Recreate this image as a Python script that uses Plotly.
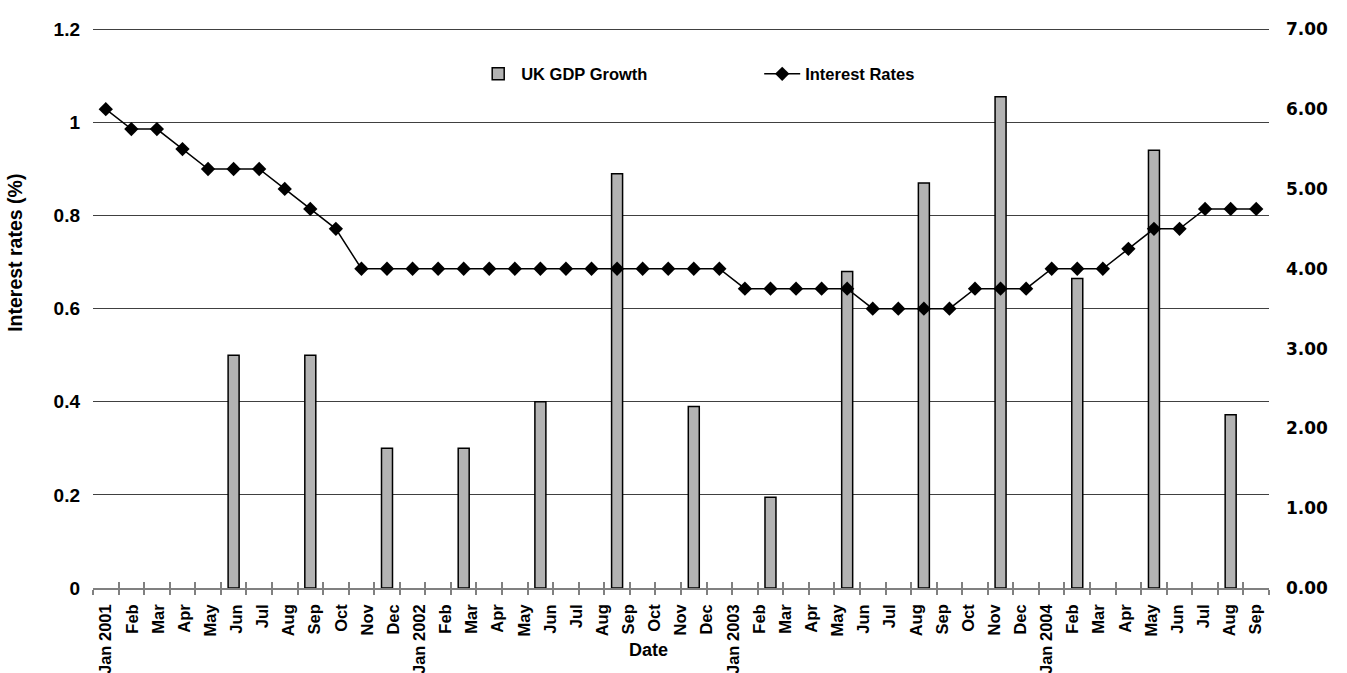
import plotly.graph_objects as go
import pandas as pd

# ---------------- data ----------------
# 46 monthly data slots (Jan 2001 .. Oct 2004) used by both series
month_keys = list(pd.period_range("2001-01", periods=46, freq="M").strftime("%Y-%m"))

# 45 category labels printed under the axis
month_labels = [
    "Jan 2001", "Feb", "Mar", "Apr", "May", "Jun", "Jul", "Aug", "Sep", "Oct", "Nov", "Dec",
    "Jan 2002", "Feb", "Mar", "Apr", "May", "Jun", "Jul", "Aug", "Sep", "Oct", "Nov", "Dec",
    "Jan 2003", "Feb", "Mar", "Apr", "May", "Jun", "Jul", "Aug", "Sep", "Oct", "Nov", "Dec",
    "Jan 2004", "Feb", "Mar", "Apr", "May", "Jun", "Jul", "Aug", "Sep",
]

interest_rates = [
    6.00, 5.75, 5.75, 5.50, 5.25, 5.25, 5.25, 5.00, 4.75, 4.50, 4.00, 4.00,
    4.00, 4.00, 4.00, 4.00, 4.00, 4.00, 4.00, 4.00, 4.00, 4.00, 4.00, 4.00,
    4.00, 3.75, 3.75, 3.75, 3.75, 3.75, 3.50, 3.50, 3.50, 3.50, 3.75, 3.75,
    3.75, 4.00, 4.00, 4.00, 4.25, 4.50, 4.50, 4.75, 4.75, 4.75,
]

gdp_months = [
    "2001-06", "2001-09", "2001-12", "2002-03", "2002-06", "2002-09", "2002-12",
    "2003-03", "2003-06", "2003-09", "2003-12", "2004-03", "2004-06", "2004-09",
]
gdp_growth = [0.50, 0.50, 0.30, 0.30, 0.40, 0.89, 0.39, 0.195, 0.68, 0.87, 1.055, 0.665, 0.94, 0.372]

left_tickvals = [0, 0.2, 0.4, 0.6, 0.8, 1, 1.2]
left_ticktext = ["0", "0.2", "0.4", "0.6", "0.8", "1", "1.2"]
right_tickvals = [0, 1, 2, 3, 4, 5, 6, 7]

# small headroom so the top gridline (1.2) is not clipped at the plot edge
left_max = 1.205
right_max = 7 * left_max / 1.2

sans = "Liberation Sans, Arial, sans-serif"
left_ticks_font = dict(family=sans, size=19, color="black", weight=700)
right_ticks_font = dict(family="DejaVu Sans, Verdana, sans-serif", size=17, color="black", weight=700)

fig = go.Figure()
fig.add_trace(go.Bar(
    x=gdp_months, y=gdp_growth, name="UK GDP Growth",
    xaxis="x", yaxis="y",
    marker=dict(color="#b3b3b3", line=dict(color="black", width=1.5)),
))
fig.add_trace(go.Scatter(
    x=month_keys, y=interest_rates, name="Interest Rates",
    xaxis="x", yaxis="y2", mode="lines+markers",
    line=dict(color="black", width=1.5),
    marker=dict(symbol="diamond", size=11, color="black"),
))
# empty helper traces so that the label axis and the inner tick axis get drawn
fig.add_trace(go.Scatter(x=[], y=[], xaxis="x2", yaxis="y", showlegend=False, hoverinfo="skip"))
fig.add_trace(go.Scatter(x=[], y=[], xaxis="x3", yaxis="y", showlegend=False, hoverinfo="skip"))

fig.update_layout(
    width=1347, height=673,
    margin=dict(l=93, r=78, t=27, b=85, autoexpand=False),
    paper_bgcolor="white", plot_bgcolor="white",
    bargap=0.57,
    showlegend=True,
    legend=dict(
        orientation="h", x=0.325, y=0.916, xanchor="left", yanchor="middle",
        font=dict(family=sans, size=16.5, color="black", weight=700),
        itemwidth=36, entrywidth=233, entrywidthmode="pixels",
        bgcolor="rgba(0,0,0,0)",
    ),
    xaxis=dict(
        type="category", categoryorder="array", categoryarray=month_keys,
        range=[-0.5, len(month_keys) - 0.5],
        showticklabels=False, ticks="outside", ticklen=5, tickcolor="#808080",
        tickwidth=1.5, tickson="boundaries",
        showline=True, linecolor="#808080", linewidth=1.5,
        showgrid=False, zeroline=False, automargin=False,
    ),
    xaxis2=dict(
        overlaying="x", anchor="y", side="bottom",
        range=[-0.5, len(month_labels) - 0.5],
        tickmode="array", tickvals=list(range(len(month_labels))), ticktext=month_labels,
        tickangle=-90, ticks="", ticklabelstandoff=12,
        tickfont=dict(family=sans, size=16.5, color="black", weight=700),
        showgrid=False, showline=False, zeroline=False, automargin=False,
    ),
    xaxis3=dict(
        overlaying="x", anchor="y", side="bottom",
        range=[-0.5, len(month_keys) - 0.5], tick0=-0.5, dtick=1,
        ticks="inside", ticklen=6, tickwidth=1.5, tickcolor="#808080",
        showticklabels=False, showgrid=False, showline=False, zeroline=False, automargin=False,
    ),
    yaxis=dict(
        range=[0, left_max], tickmode="array", tickvals=left_tickvals, ticktext=left_ticktext,
        showgrid=True, gridcolor="#404040", gridwidth=1,
        zeroline=False, showline=False, ticks="", automargin=False,
        ticklabelstandoff=12, tickfont=left_ticks_font,
    ),
    yaxis2=dict(
        overlaying="y", side="right", range=[0, right_max], tickmode="array", tickvals=right_tickvals,
        tickformat=".2f", showgrid=False, zeroline=False, showline=False, ticks="", automargin=False,
        ticklabelstandoff=16, tickfont=right_ticks_font,
    ),
    annotations=[
        dict(text="Date", xref="paper", yref="paper", x=0.472, y=-0.111,
             xanchor="center", yanchor="middle", showarrow=False,
             font=dict(family=sans, size=18, color="black", weight=700)),
        dict(text="Interest rates (%)", xref="paper", yref="paper", x=-0.0663, y=0.5975,
             xanchor="center", yanchor="middle", showarrow=False, textangle=-90,
             font=dict(family=sans, size=19.5, color="black", weight=700)),
    ],
)

fig.write_html("out.html")
